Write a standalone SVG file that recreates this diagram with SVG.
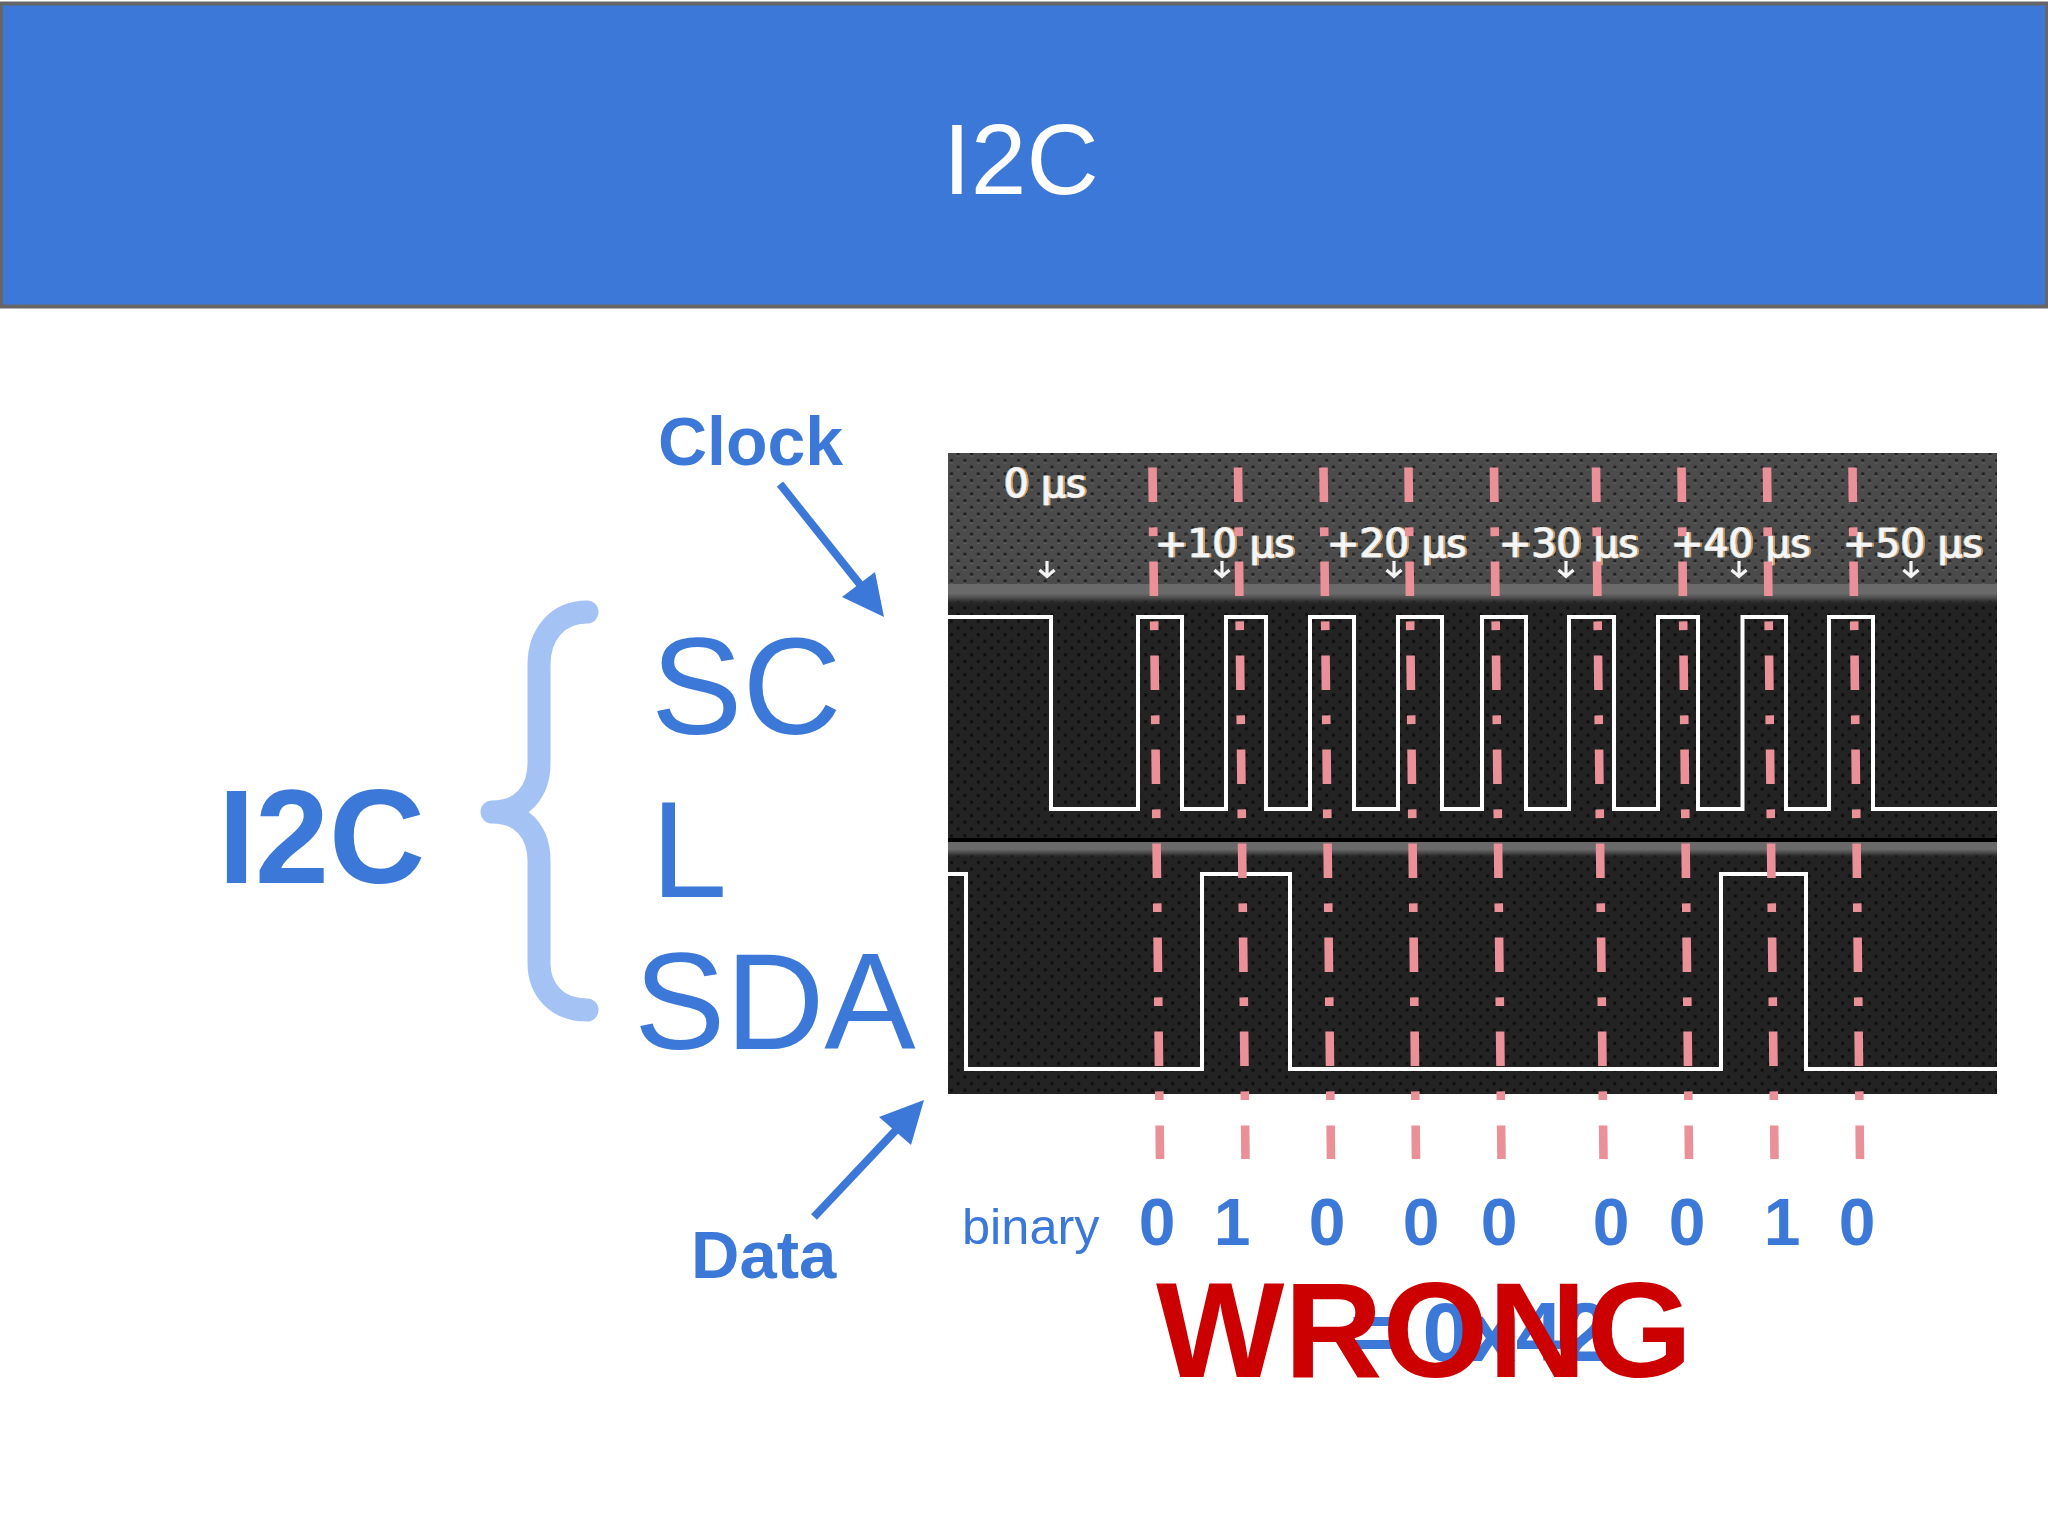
<svg xmlns="http://www.w3.org/2000/svg" width="2048" height="1536" viewBox="0 0 2048 1536">
<style>
.sans{font-family:"Liberation Sans",Arial,sans-serif}
.blue{fill:#3c78d8}
.b{font-weight:700}
.ts{font-family:"DejaVu Sans",sans-serif;font-size:39px;fill:#f4f6f6;stroke:#f4f6f6;stroke-width:0.5;filter:url(#fringe)}
.sig{fill:none;stroke:#fff;stroke-width:4}
.cur{fill:none;stroke:#ea9098;stroke-width:8.6;stroke-dasharray:34.5 25.4 8.7 25.4}
.ah{fill:none;stroke:#f4f4f4;stroke-width:3.2}
.ptr{fill:none;stroke:#3c78d8;stroke-width:8}
.head{fill:#3c78d8}
</style>
<defs>
<filter id="fringe" x="-5%" y="-5%" width="110%" height="110%">
<feOffset in="SourceAlpha" dx="-1.500" result="l"/>
<feFlood flood-color="#8ecbf0" result="lc"/>
<feComposite in="lc" in2="l" operator="in" result="left"/>
<feOffset in="SourceAlpha" dx="1.500" result="r"/>
<feFlood flood-color="#e0a25c" result="rc"/>
<feComposite in="rc" in2="r" operator="in" result="right"/>
<feGaussianBlur in="SourceGraphic" stdDeviation="0.4" result="main"/>
<feMerge><feMergeNode in="left"/><feMergeNode in="right"/><feMergeNode in="main"/></feMerge>
</filter>
<pattern id="dotsTop" width="13.4" height="13.4" patternUnits="userSpaceOnUse" x="948" y="454">
<rect width="13.4" height="13.4" fill="#4b4b4b"/>
<rect x="2" y="5" width="3" height="3" fill="#1f1f1f"/>
<rect x="2" y="8" width="3" height="1.5" fill="#5e5e5e"/>
<rect x="8.7" y="11.7" width="3" height="1.7" fill="#1f1f1f"/>
<rect x="8.7" y="0" width="3" height="1.3" fill="#1f1f1f"/>
<rect x="8.7" y="1.3" width="3" height="1.5" fill="#5e5e5e"/>
</pattern>
<pattern id="dotsLow" width="13.4" height="13.4" patternUnits="userSpaceOnUse" x="948" y="454">
<rect width="13.4" height="13.4" fill="#232323"/>
<rect x="2" y="5" width="3" height="3" fill="#0d0d0d"/>
<rect x="8.7" y="11.7" width="3" height="1.7" fill="#0d0d0d"/>
<rect x="8.7" y="0" width="3" height="1.3" fill="#0d0d0d"/>
</pattern>
<linearGradient id="band" x1="0" y1="0" x2="0" y2="1">
<stop offset="0" stop-color="#696969"/><stop offset="0.45" stop-color="#6a6a6a"/><stop offset="0.7" stop-color="#464646"/><stop offset="1" stop-color="#2a2a2a" stop-opacity="0"/>
</linearGradient>
<g id="tick"><path class="ah" d="M0 561V576M-7.500 570L0 576.500L7.500 570"/></g>
</defs>

<rect width="2048" height="1536" fill="#fff"/>

<g id="header">
<rect x="1" y="3.500" width="2046" height="303" fill="#3c78d8" stroke="#666" stroke-width="4"/>
<text class="sans" x="943" y="194" font-size="100" fill="#fff">I2C</text>
</g>

<g id="scope">
<rect x="948" y="453" width="1049" height="131" fill="url(#dotsTop)"/>
<rect x="948" y="584" width="1049" height="510" fill="url(#dotsLow)"/>
<rect x="948" y="584" width="1049" height="21" fill="url(#band)"/>
<rect x="948" y="838" width="1049" height="4" fill="#000"/>
<rect x="948" y="842" width="1049" height="16" fill="url(#band)"/>
<path class="sig" d="M948 617H1051V809H1138V617H1182V809H1226V617H1266V809H1310V617H1354V809H1398V617H1442V809H1482V617H1526V809H1569V617H1614V809H1658V617H1698V809H1742.500V617H1786V809H1829V617H1873V809H1997"/>
<path class="sig" d="M948 874H966V1069H1202V874H1290V1069H1721V874H1806V1069H1997"/>
<g id="scope-ticks">
<use href="#tick" x="1047"/><use href="#tick" x="1222"/><use href="#tick" x="1394"/><use href="#tick" x="1566"/><use href="#tick" x="1739"/><use href="#tick" x="1911"/>
</g>
<text class="ts" x="1004" y="497">0 μs</text>
<text class="ts" x="1155" y="557">+10 μs</text>
<text class="ts" x="1327" y="557">+20 μs</text>
<text class="ts" x="1499" y="557">+30 μs</text>
<text class="ts" x="1671" y="557">+40 μs</text>
<text class="ts" x="1843" y="557">+50 μs</text>
</g>

<g id="connectors">
<path class="cur" d="M1152.500 467.500L1160 1159"/>
<path class="cur" d="M1238 467.500L1245.500 1159"/>
<path class="cur" d="M1323.500 467.500L1331 1159"/>
<path class="cur" d="M1408.500 467.500L1416 1159"/>
<path class="cur" d="M1494 467.500L1501.500 1159"/>
<path class="cur" d="M1596 467.500L1603.500 1159"/>
<path class="cur" d="M1681.500 467.500L1689 1159"/>
<path class="cur" d="M1767 467.500L1774.500 1159"/>
<path class="cur" d="M1852.500 467.500L1860 1159"/>
<path class="ptr" d="M780 484L862 587"/>
<path class="head" d="M884 617L875 572L842 597Z"/>
<path class="ptr" d="M814 1217L897 1129"/>
<path class="head" d="M924 1100L879 1117L911 1145Z"/>
</g>

<g id="brace">
<path fill="none" stroke="#a4c2f4" stroke-width="23" stroke-linecap="round" stroke-linejoin="round" d="M587 612C557 612 539 635 539 665V763C539 792 522 812 492 812C522 812 539 832 539 861V963C539 990 557 1010 587 1010"/>
</g>

<g id="i2c-label"><text class="sans b blue" x="218" y="883" font-size="133">I2C</text></g>
<g id="scl-label">
<text class="sans blue" x="651" y="734" font-size="137">SC</text>
<text class="sans blue" x="651" y="897" font-size="137">L</text>
</g>
<g id="sda-label"><text class="sans blue" x="634" y="1049" font-size="137">SDA</text></g>
<g id="clock-label"><text class="sans b blue" x="658" y="465" font-size="68">Clock</text></g>
<g id="data-label"><text class="sans b blue" x="691" y="1278" font-size="67">Data</text></g>

<g id="binary">
<text class="sans blue" x="962" y="1244" font-size="50.500">binary</text>
<text class="sans b blue" y="1245" font-size="66" text-anchor="middle" x="1157 1232 1327 1421 1499 1611 1687 1782 1857">010000010</text>
</g>

<g id="hex"><text class="sans b blue" x="1350" y="1361" font-size="84">= 0x42</text></g>
<g id="wrong"><text class="sans b" x="1156" y="1377" font-size="136" fill="#cc0000">WRONG</text></g>
</svg>
